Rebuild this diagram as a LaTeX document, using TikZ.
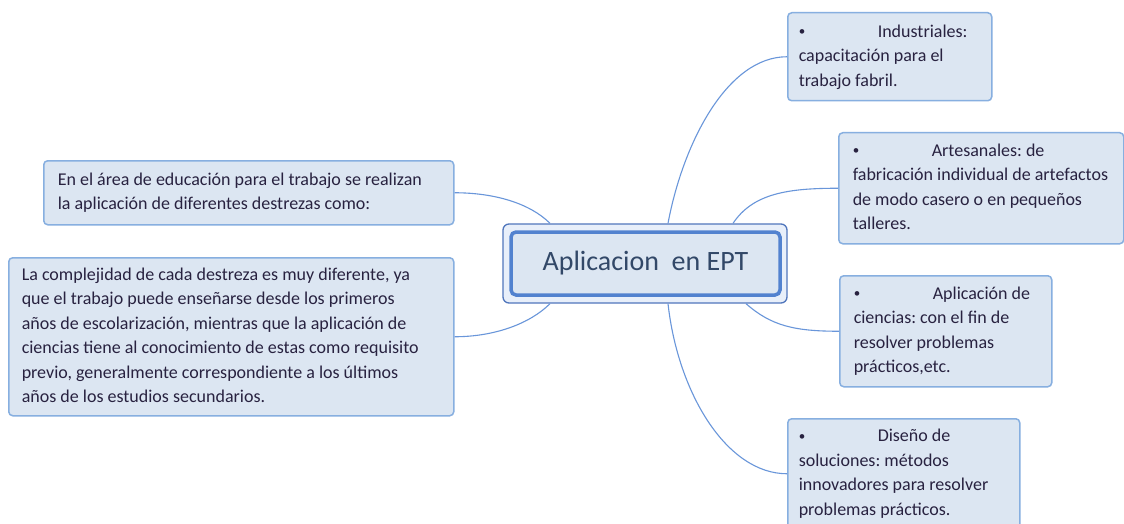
\documentclass[tikz,border=0pt]{standalone}
\usepackage{fontspec}
\setmainfont{Carlito}
\definecolor{boxfill}{RGB}{220,230,242}
\definecolor{boxline}{RGB}{135,175,224}
\definecolor{linkc}{RGB}{105,150,218}
\definecolor{txtc}{RGB}{40,34,64}
\definecolor{ctxt}{RGB}{50,72,104}
\definecolor{couter}{RGB}{80,118,188}
\definecolor{cinner}{RGB}{82,130,207}
\definecolor{cgap}{RGB}{232,239,250}
\newcommand{\bul}{\makebox[79pt][l]{\raisebox{1.5pt}{\fontsize{13}{13}\selectfont\textbullet}}}
\newcommand{\boxtext}[2]{\makebox[#1][l]{\begin{tabular}{@{}l@{}}#2\end{tabular}}}
\begin{document}
\begin{tikzpicture}[x=1pt,y=-1pt,
  box/.style={draw=boxline, fill=boxfill, line width=1.5pt, rounded corners=4pt,
    anchor=north west, text=txtc,
    font=\fontsize{18}{24.5}\selectfont\frenchspacing, inner ysep=0pt},
  link/.style={draw=linkc, line width=1.1pt}]
\useasboundingbox (0,0) rectangle (1124,524);
\fill[white] (0,0) rectangle (1124,524);

% central node
\node[draw=couter, line width=1.3pt, fill=cgap, rounded corners=6pt,
  minimum width=284pt, minimum height=79pt, inner sep=0pt] (co) at (645,263.5) {};
\node[draw=cinner, line width=3.5pt, fill=boxfill, rounded corners=5pt,
  minimum width=269pt, minimum height=63pt, inner sep=0pt, text=ctxt,
  font=\fontsize{28}{32}\selectfont] (c) at (645.5,263.5) {Aplicacion\ \ en EPT};

% boxes
\node[box, inner xsep=14pt, minimum height=64pt] (l1) at (43,160)
  {\boxtext{382pt}{En el área de educación para el trabajo se realizan\\la aplicación de diferentes destrezas como:}};
\node[box, inner xsep=13pt, minimum height=158pt] (l2) at (8,257)
  {\boxtext{419pt}{La complejidad de cada destreza es muy diferente, ya\\que el trabajo puede enseñarse desde los primeros\\años de escolarización, mientras que la aplicación de\\ciencias tiene al conocimiento de estas como requisito\\previo, generalmente correspondiente a los últimos\\años de los estudios secundarios.}};
\node[box, inner xsep=11pt, minimum height=88pt] (r1) at (787,12)
  {\boxtext{182pt}{\bul Industriales:\\capacitación para el\\trabajo fabril.}};
\node[box, inner xsep=14pt, minimum height=111pt] (r2) at (838,132)
  {\boxtext{257pt}{\bul Artesanales: de\\fabricación individual de artefactos\\de modo casero o en pequeños\\talleres.}};
\node[box, inner xsep=14pt, minimum height=111pt] (r3) at (839,275)
  {\boxtext{184pt}{\bul Aplicación de\\ciencias: con el fin de\\resolver problemas\\prácticos,etc.}};
\node[box, inner xsep=11pt, minimum height=110pt] (r4) at (787,418)
  {\boxtext{210pt}{\bul Diseño de\\soluciones: métodos\\innovadores para resolver\\problemas prácticos.}};

% connectors
\draw[link] ([xshift=23pt]co.north) .. controls +(15,-80) and +(-60,0) .. (r1.west);
\draw[link] ([xshift=88pt]co.north) .. controls +(20,-30) and +(-50,0) .. (r2.west);
\draw[link] ([xshift=101pt]co.south) .. controls +(25,22) and +(-45,0) .. (r3.west);
\draw[link] ([xshift=23pt]co.south) .. controls +(10,90) and +(-60,0) .. (r4.west);
\draw[link] ([xshift=-95pt]co.north) .. controls +(-20,-20) and +(40,0) .. (l1.east);
\draw[link] ([xshift=-95pt]co.south) .. controls +(-20,20) and +(40,0) .. (l2.east);
\end{tikzpicture}
\end{document}
